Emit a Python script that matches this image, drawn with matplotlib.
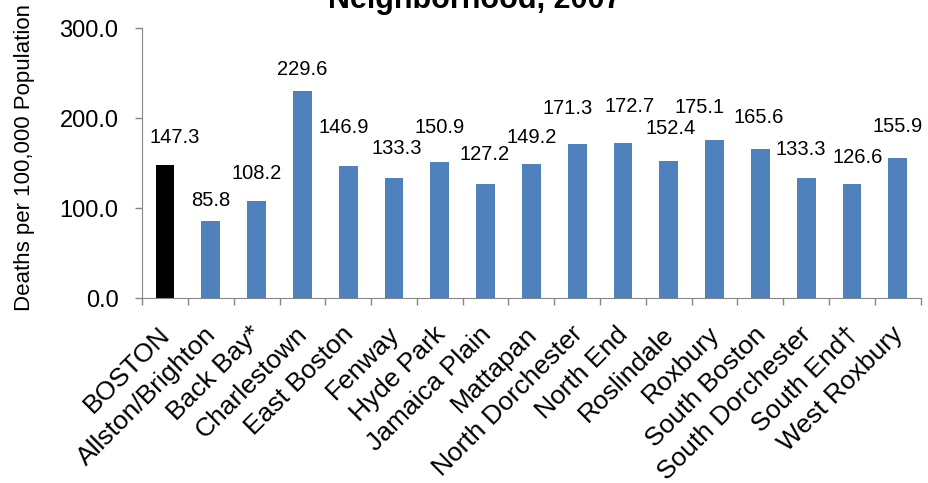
import matplotlib.pyplot as plt
import numpy as np

plt.rcParams['font.family'] = ['Liberation Sans', 'DejaVu Sans']

neighborhoods = ['BOSTON', 'Allston/Brighton', 'Back Bay*', 'Charlestown', 'East Boston',
                 'Fenway', 'Hyde Park', 'Jamaica Plain', 'Mattapan', 'North Dorchester',
                 'North End', 'Roslindale', 'Roxbury', 'South Boston', 'South Dorchester',
                 'South End\u2020', 'West Roxbury']
rates = [147.3, 85.8, 108.2, 229.6, 146.9, 133.3, 150.9, 127.2, 149.2, 171.3,
         172.7, 152.4, 175.1, 165.6, 133.3, 126.6, 155.9]
yticks = [0, 100, 200, 300]

# label offsets from the bar top, in pixels (labels were hand placed in the original)
label_dx = [10, 0, 0, 0, -4, 3, 0, -1, 0, -10, 7, 2, -15, -2, -5, 6, 0]
label_dy = [28, 20, 27, 22, 38, 30, 35, 29, 26, 35, 36, 32, 33, 31, 29, 27, 31]

fig = plt.figure(figsize=(9.29, 4.83), dpi=100)
ax = fig.add_axes([0.153, 0.383, 0.838, 0.559])

x = np.arange(len(rates))
colors = ['#000000'] + ['#4F81BD'] * (len(rates) - 1)
ax.bar(x, rates, width=0.41, color=colors, zorder=2)

for xi, v, dx, dy in zip(x, rates, label_dx, label_dy):
    ax.annotate(f'{v:.1f}', (xi, v), xytext=(dx, dy), textcoords='offset pixels',
                ha='center', va='center', fontsize=14.5, color='#000000')

ax.set_xlim(-0.5, len(rates) - 0.5)
ax.set_ylim(0, 300)
ax.set_yticks(yticks)
ax.set_yticklabels([f'{t:.1f}' for t in yticks], fontsize=17)
ax.set_ylabel('Deaths per 100,000 Population', fontsize=16)
ax.yaxis.set_label_coords(-0.137, 0.522)

ax.set_xticks(np.arange(len(rates) + 1) - 0.5)
ax.set_xticklabels([])
for xi, name in zip(x, neighborhoods):
    ax.annotate(name, (xi, 0), xytext=(-7, -24), textcoords='offset pixels',
                ha='right', va='top', rotation=45, rotation_mode='anchor', fontsize=19)

for s in ['top', 'right']:
    ax.spines[s].set_visible(False)
for s in ['left', 'bottom']:
    ax.spines[s].set_color('#868686')
ax.tick_params(axis='both', which='major', color='#868686', length=5, width=1)
ax.tick_params(axis='y', pad=12)

fig.text(0.511, 1 - 8 / 483, 'Neighborhood, 2007', ha='center', va='baseline',
         fontsize=22, fontweight='bold')

fig.savefig('out.png', dpi=100)
